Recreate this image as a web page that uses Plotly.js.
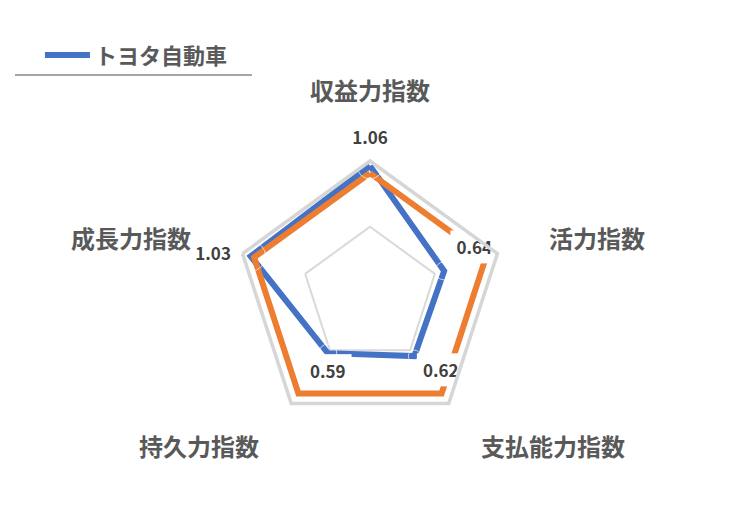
<!DOCTYPE html>
<html>
<head>
<meta charset="utf-8">
<script src="https://cdn.plot.ly/plotly-3.0.1.min.js"></script>
<style>
  body { margin: 0; background: #fff; }
  #myDiv { width: 740px; height: 527px; }
</style>
</head>
<body>
<div id="myDiv"></div>
<script>
let CATEGORIES = ["収益力指数", "活力指数", "支払能力指数", "持久力指数", "成長力指数"];
let TOYOTA = [1.06, 0.64, 0.62, 0.59, 1.03];
let BASELINE = [1, 1, 1, 1, 1];
let LABELS = ["1.06", "0.64", "0.62", "0.59", "1.03"];

let FONT = '"Noto Sans CJK JP", "Noto Sans", sans-serif';
let W = 740, H = 527;
let M = { l: 236, r: 236, t: 161, b: 98 };
let PW = W - M.l - M.r, PH = H - M.t - M.b;

// pixel -> paper
function px2x(px) { return (px - M.l) / PW; }
function px2y(py) { return (H - M.b - py) / PH; }

function closed(arr) { return arr.concat([arr[0]]); }

let blueTrace = {
    type: 'scatterpolar',
    r: closed(TOYOTA),
    theta: closed(CATEGORIES),
    mode: 'lines',
    name: 'トヨタ自動車',
    line: { color: '#4472C4', width: 6 },
    showlegend: true
};

let orangeTrace = {
    type: 'scatterpolar',
    r: closed(BASELINE),
    theta: closed(CATEGORIES),
    mode: 'lines',
    name: '平均',
    line: { color: '#ED7D31', width: 6 },
    showlegend: false
};

// invisible markers, their size just pushes each label away from the vertex
let labelTrace = {
    type: 'scatterpolar',
    r: TOYOTA,
    theta: CATEGORIES,
    mode: 'markers+text',
    text: LABELS,
    textposition: ['top center', 'top right', 'bottom right', 'bottom center', 'middle left'],
    textfont: { family: FONT, size: 17, color: '#404040', weight: 'bold' },
    marker: { size: [26, 18, 12, 18, 30], color: 'rgba(0,0,0,0)' },
    hoverinfo: 'skip',
    showlegend: false
};

// category names sit outside the pentagon, excel style:
// same distance from the centre, anchored on the side facing the chart
let cx = M.l + PW / 2, cy = M.t + PH / 2;
let LABEL_DIST = 186;
let catAnnotations = CATEGORIES.map(function (name, i) {
    let a = (90 - 360 / CATEGORIES.length * i) * Math.PI / 180;
    let c = Math.cos(a), s = Math.sin(a);
    let px = cx + LABEL_DIST * c, py = cy - LABEL_DIST * s;
    return {
        text: name,
        xref: 'paper', yref: 'paper',
        x: px2x(px), y: px2y(py),
        xanchor: Math.abs(c) < 0.1 ? 'center' : (c > 0 ? 'left' : 'right'),
        yanchor: Math.abs(c) < 0.1 ? 'bottom' : 'middle',
        showarrow: false,
        font: { family: FONT, size: 24, color: '#595959', weight: 'bold' }
    };
});

let layout = {
    width: W,
    height: H,
    margin: M,
    paper_bgcolor: '#ffffff',
    font: { family: FONT, color: '#595959' },
    showlegend: true,
    legend: {
        xref: 'container', yref: 'container',
        x: 0.054, y: 0.935, xanchor: 'left', yanchor: 'top',
        itemwidth: 45,
        font: { family: FONT, size: 22, color: '#595959', weight: 'bold' },
        bgcolor: 'rgba(0,0,0,0)'
    },
    polar: {
        bgcolor: '#ffffff',
        gridshape: 'linear',
        domain: { x: [0, 1], y: [0, 1] },
        radialaxis: {
            range: [0, 1.1],
            tickvals: [0.56],
            showticklabels: false,
            ticks: '',
            showline: false,
            gridcolor: '#d9d9d9',
            gridwidth: 1.5
        },
        angularaxis: {
            rotation: 90,
            direction: 'clockwise',
            showgrid: false,
            showline: true,
            linecolor: '#d6d6d6',
            linewidth: 3.5,
            ticks: '',
            showticklabels: false
        }
    },
    annotations: catAnnotations,
    shapes: [{
        type: 'line', xref: 'paper', yref: 'paper',
        x0: px2x(15), x1: px2x(252), y0: px2y(75), y1: px2y(75),
        line: { color: '#a6a6a6', width: 2 }
    }]
};

function addLabelBoxes() {
    // white boxes behind the data labels, like the excel ones
    let texts = document.querySelectorAll('#myDiv .scatterlayer text');
    texts.forEach(function (t) {
        let prev = t.previousElementSibling;
        if (prev && prev.getAttribute('class') === 'lblbox') prev.remove();
        let bb = t.getBBox();
        if (!bb.width) return;
        let rect = document.createElementNS('http://www.w3.org/2000/svg', 'rect');
        rect.setAttribute('class', 'lblbox');
        rect.setAttribute('x', bb.x - 6);
        rect.setAttribute('y', bb.y - 4);
        rect.setAttribute('width', bb.width + 12);
        rect.setAttribute('height', bb.height + 8);
        rect.setAttribute('fill', '#ffffff');
        if (t.getAttribute('transform')) rect.setAttribute('transform', t.getAttribute('transform'));
        t.parentNode.insertBefore(rect, t);
    });
}

Plotly.newPlot('myDiv', [blueTrace, orangeTrace, labelTrace], layout, { displayModeBar: false }).then(function () {
    addLabelBoxes();
    setTimeout(addLabelBoxes, 50);
});
</script>
</body>
</html>
